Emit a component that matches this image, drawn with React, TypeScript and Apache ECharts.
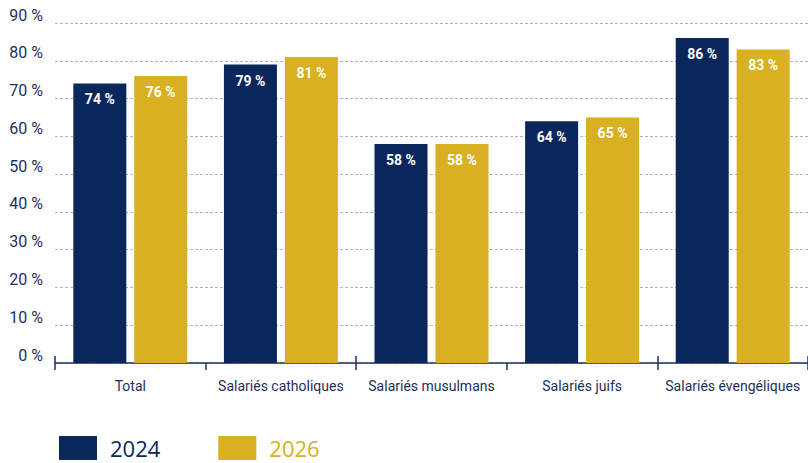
import React, { useEffect, useRef } from "react";
import * as echarts from "echarts";

const categories = ["Total", "Salariés catholiques", "Salariés musulmans", "Salariés juifs", "Salariés évengéliques"];
const values2024 = [74, 79, 58, 64, 86];
const values2026 = [76, 81, 58, 65, 83];
const seriesNames = ["2024", "2026"];

const NAVY = "#0a275c";
const GOLD = "#d9b021";
const TEXT = "#1c2f5e";
const NARROW = 'Roboto, "Noto Sans", sans-serif';

export default function App() {
  const ref = useRef<HTMLDivElement>(null);
  useEffect(() => {
    const chart = echarts.init(ref.current!, null, { renderer: "svg" });
    const label = {
      show: true,
      position: "insideTop",
      distance: 9,
      color: "#ffffff",
      fontWeight: "bold",
      fontSize: 14,
      fontFamily: NARROW,
      formatter: (p: any) => `${p.value} %`,
    };
    chart.setOption({
      animation: false,
      grid: { left: 55, right: 0, top: 23, bottom: 100, containLabel: false },
      legend: {
        left: 59,
        top: 436,
        padding: 0,
        icon: "rect",
        itemWidth: 38,
        itemHeight: 24,
        itemGap: 58,
        textStyle: { fontSize: 22, lineHeight: 20, fontFamily: '"Open Sans", sans-serif', padding: [0, 0, 0, 8] },
        data: [
          { name: seriesNames[0], textStyle: { color: NAVY } },
          { name: seriesNames[1], textStyle: { color: GOLD } },
        ],
      },
      xAxis: [
        {
          type: "category",
          data: categories,
          position: "bottom",
          axisLine: { show: true, lineStyle: { color: TEXT, width: 1.5 } },
          axisTick: { show: true, length: 7, lineStyle: { color: TEXT, width: 1.5 } },
          axisLabel: { color: TEXT, fontSize: 14, fontFamily: NARROW, margin: 16, interval: 0 },
        },
        {
          type: "category",
          data: categories,
          position: "bottom",
          axisLine: { show: false },
          axisTick: { show: true, inside: true, length: 7, lineStyle: { color: TEXT, width: 1.5 } },
          axisLabel: { show: false },
        },
      ],
      yAxis: {
        type: "value",
        min: 0,
        max: 90,
        interval: 10,
        axisLine: { show: false },
        axisTick: { show: false },
        axisLabel: {
          color: TEXT,
          fontSize: 16,
          fontFamily: NARROW,
          margin: 12,
          verticalAlign: "bottom",
          lineHeight: 16,
          formatter: (v: number) => `${v} %`,
        },
        splitLine: { show: true, lineStyle: { color: "#a9b3cc", type: [3, 2], width: 1 } },
      },
      series: [
        {
          name: seriesNames[0],
          type: "bar",
          data: values2024,
          barWidth: 53,
          barGap: "15%",
          itemStyle: { color: NAVY },
          label,
        },
        {
          name: seriesNames[1],
          type: "bar",
          data: values2026,
          barWidth: 53,
          barGap: "15%",
          itemStyle: { color: GOLD },
          label,
        },
      ],
    });
    return () => chart.dispose();
  }, []);
  return <div ref={ref} style={{ width: 808, height: 463, position: "absolute", left: 0, top: 0 }} />;
}
